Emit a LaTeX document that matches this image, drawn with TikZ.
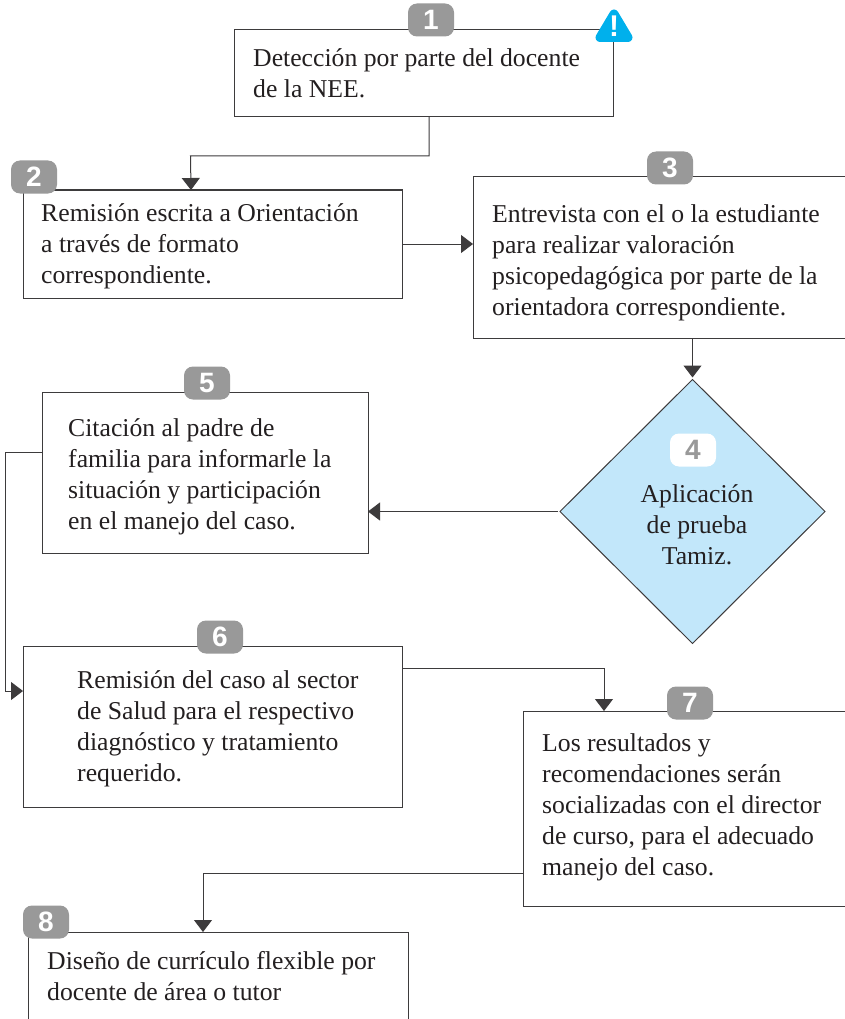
\documentclass[tikz,border=0pt]{standalone}
\usepackage{fontspec}
\setmainfont{Liberation Serif}
\setsansfont{Liberation Sans}
\usetikzlibrary{shapes.geometric,arrows.meta}
\definecolor{ink}{HTML}{231F20}
\definecolor{linec}{HTML}{3D3B3C}
\definecolor{badgec}{HTML}{999999}
\definecolor{diamc}{HTML}{C2E7FA}
\definecolor{warnc}{HTML}{00B0EC}
\tikzset{
 boxn/.style={draw=linec,line width=1pt,fill=white,rectangle,inner sep=0pt,outer sep=0pt},
 txt/.style={anchor=west,align=left,inner sep=0pt,text=ink,font=\fontsize{25.7}{31}\selectfont},
 badge/.style={fill=badgec,rounded corners=9pt,minimum width=46pt,minimum height=33pt,inner sep=0pt,text=white,font=\sffamily\bfseries\fontsize{28}{28}\selectfont},
 conn/.style={draw=linec,line width=1pt,-{Triangle[length=12pt,width=18pt,fill=linec]}},
}
\begin{document}
\begin{tikzpicture}[x=1pt,y=-1pt]
\useasboundingbox (0,0) rectangle (845,1019);
\fill[white] (0,0) rectangle (845,1019);
\begin{scope}
\clip (0,0) rectangle (845,1019);
\node[boxn,minimum width=379pt,minimum height=87pt] (n1) at (423.5,73.5) {};
\node[boxn,minimum width=379pt,minimum height=108pt] (n2) at (212.5,244) {};
\node[boxn,minimum width=373pt,minimum height=161pt] (n3) at (659.5,257.5) {};
\node[diamond,draw=linec,line width=1pt,fill=diamc,aspect=1,inner sep=0pt,outer sep=0pt,minimum width=265pt,minimum height=264pt] (n4) at (692.5,511.5) {};
\node[boxn,minimum width=326pt,minimum height=161pt] (n5) at (205,472.5) {};
\node[boxn,minimum width=379pt,minimum height=161pt] (n6) at (212.5,726.5) {};
\node[boxn,minimum width=323pt,minimum height=195pt] (n7) at (684.5,808.5) {};
\node[boxn,minimum width=380pt,minimum height=110pt] (n8) at (218,987) {};
\end{scope}
\node[txt] (t1) at (253,73.5) {Detección por parte del docente\\de la NEE.};
\node[txt] (t2) at (41,246) {Remisión escrita a Orientación\\a través de formato\\correspondiente.};
\node[txt] (t3) at (492,262.5) {Entrevista con el o la estudiante\\para realizar valoración\\psicopedagógica por parte de la\\orientadora correspondiente.};
\node[txt,anchor=center,align=center] (t4) at (697,525) {Aplicación\\de prueba\\Tamiz.};
\node[txt] (t5) at (68,476.5) {Citación al padre de\\familia para informarle la\\situación y participación\\en el manejo del caso.};
\node[txt] (t6) at (77,728.5) {Remisión del caso al sector\\de Salud para el respectivo\\diagnóstico y tratamiento\\requerido.};
\node[txt] (t7) at (542,807.5) {Los resultados y\\recomendaciones serán\\socializadas con el director\\de curso, para el adecuado\\manejo del caso.};
\node[txt] (t8) at (47,976) {Diseño de currículo flexible por\\docente de área o tutor};
\node[badge] (b1) at (431,20) {1};
\node[badge] (b2) at (34,177) {2};
\node[badge] (b3) at (670,168) {3};
\node[badge,fill=white,text=badgec] (b4) at (693,450) {4};
\node[badge] (b5) at (207,383) {5};
\node[badge] (b6) at (220,637) {6};
\node[badge] (b7) at (690,703) {7};
\node[badge] (b8) at (46,922) {8};
% warning sign
\coordinate (w1) at (614,14);
\coordinate (w2) at (600,37.5);
\coordinate (w3) at (628,37.5);
\draw[warnc,fill=warnc,line width=9pt,line join=round] (w1) -- (w2) -- (w3) -- cycle;
\node[inner sep=0pt,text=white,font=\sffamily\bfseries\fontsize{30}{30}\selectfont] (wx) at (614,26) {!};
% connectors
\draw[conn] ([xshift=5.5pt]n1.south) |- ++(-238.5,39) -- ([xshift=-21.5pt]n2.north);
\draw[conn] (n2.east) -- (n2.east -| n3.west);
\draw[conn] (n4.north |- n3.south) -- ([yshift=2pt]n4.north);
\draw[conn] ([xshift=-2pt]n4.west) -- (n4.west -| n5.east);
\draw[conn] ([yshift=20pt]n5.west) -- ++(-37,0) |- ([yshift=35.5pt]n6.west);
\draw[conn] ([yshift=58.5pt]n6.east) -| ([xshift=-80.5pt]n7.north);
\draw[conn] ([yshift=-65pt]n7.west) -| ([xshift=-15pt]n8.north);
\end{tikzpicture}
\end{document}
